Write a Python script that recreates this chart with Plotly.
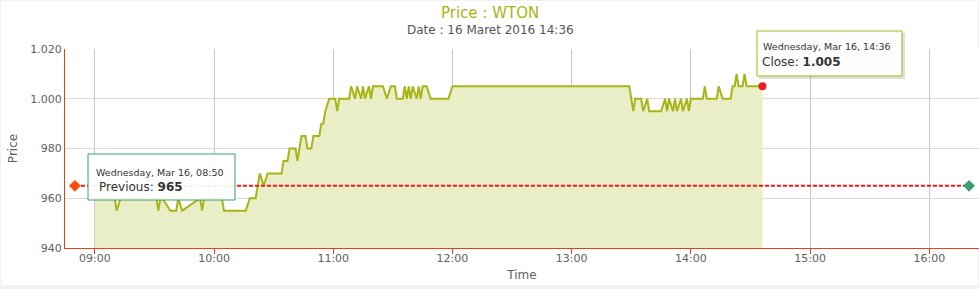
import plotly.graph_objects as go

DAY = "2016-03-16 "
times = ["09:00","09:10","09:11","09:13","09:31","09:32","09:33","09:34","09:38","09:41","09:42","09:44",
         "09:53","09:54","09:55","10:04","10:05","10:16","10:18","10:21","10:23","10:25","10:27","10:34",
         "10:35","10:37","10:38","10:41","10:42","10:44","10:46","10:47","10:49","10:50","10:53","10:54",
         "10:55","10:56","10:58","11:01","11:02","11:03","11:08","11:09","11:11","11:12","11:14","11:15",
         "11:16","11:18","11:19","11:20","11:25","11:27","11:29","11:31","11:32","11:35","11:36","11:37",
         "11:38","11:39","11:40","11:42","11:43","11:44","11:45","11:47","11:49","11:58","12:00","13:29",
         "13:31","13:32","13:35","13:36","13:38","13:39","13:45","13:47","13:48","13:49","13:51","13:52",
         "13:53","13:55","13:56","13:58","13:59","14:00","14:06","14:07","14:08","14:13","14:14","14:16",
         "14:20","14:21","14:22","14:23","14:24","14:26","14:27","14:28","14:36"]
prices = [960,960,955,960,960,955,960,960,955,955,960,955,
          960,955,960,960,955,955,960,960,970,965,970,970,
          975,975,980,980,975,985,985,980,980,985,985,990,
          990,995,1000,1000,995,1000,1000,1005,1000,1005,1000,1005,
          1000,1005,1000,1005,1005,1000,1005,1005,1000,1000,1005,1000,
          1005,1000,1005,1000,1005,1000,1005,1005,1000,1000,1005,1005,
          995,1000,1000,995,1000,995,995,1000,995,1000,995,1000,
          995,1000,995,1000,995,1000,1000,1005,1000,1000,1005,1000,
          1000,1005,1005,1010,1005,1005,1010,1005,1005]

previous_value = 965
previous_times = ["08:50", "16:20"]
close_time = "14:36"
close_value = 1005

y_ticks = [940, 960, 980, 1000, 1020]
y_tick_text = ["940", "960", "980", "1.000", "1.020"]
x_ticks = ["09:00","10:00","11:00","12:00","13:00","14:00","15:00","16:00"]

W, H = 979, 289
ML, MR, MT, MB = 65, 0, 49, 41
PW, PH = W - ML - MR, H - MT - MB

def px(x):
    return (x - ML) / PW

def py(y):
    return (H - MB - y) / PH

FONT = "DejaVu Sans"
LINE = "#a8b516"
AXIS = "#e8401c"

fig = go.Figure()

fig.add_trace(go.Scatter(
    x=[DAY + t for t in times], y=prices, mode="lines",
    line=dict(color=LINE, width=2, shape="linear"),
    fill="tozeroy", fillcolor="#e9eec6", hoverinfo="skip", showlegend=False))

fig.add_trace(go.Scatter(
    x=[DAY + t for t in previous_times], y=[previous_value] * 2, mode="lines",
    line=dict(color="#f01818", width=2, dash="4px,2px"), hoverinfo="skip", showlegend=False))

fig.add_trace(go.Scatter(
    x=[DAY + previous_times[0]], y=[previous_value], mode="markers",
    marker=dict(symbol="diamond", size=9, color="#ff4a10"), showlegend=False))
fig.add_trace(go.Scatter(
    x=[DAY + previous_times[1]], y=[previous_value], mode="markers",
    marker=dict(symbol="diamond", size=9, color="#3d9e74"), showlegend=False))
fig.add_trace(go.Scatter(
    x=[DAY + close_time], y=[close_value], mode="markers",
    marker=dict(symbol="circle", size=8, color="#ea1c24"), showlegend=False))

shapes = []
shapes.append(dict(type="rect", xref="paper", yref="paper", x0=px(1), x1=px(978), y0=py(285), y1=py(1),
                   fillcolor="white", line=dict(width=0), layer="below"))

def box(l, t, rgt, b, color, shadow=False):
    out = []
    if shadow:
        out.append(dict(type="rect", xref="paper", yref="paper", x0=px(l + 2), x1=px(rgt + 3),
                        y0=py(b + 3), y1=py(t + 2), fillcolor="rgba(0,0,0,0.12)",
                        line=dict(width=0), layer="above"))
    out.append(dict(type="rect", xref="paper", yref="paper", x0=px(l), x1=px(rgt),
                    y0=py(b), y1=py(t), fillcolor="rgba(255,255,255,0.92)",
                    line=dict(color=color, width=1), layer="above"))
    return out

shapes += box(88, 154, 235, 200, "#3d9e74")
shapes += box(757, 31, 902, 76, LINE, shadow=True)

def note(text, x, y, size, color, xanchor="center"):
    return dict(text=text, xref="paper", yref="paper", x=px(x), y=py(y),
                xanchor=xanchor, yanchor="middle", showarrow=False,
                font=dict(family=FONT, size=size, color=color))

annotations = [
    note("Price : WTON", 490, 13, 15, "#a8b516"),
    note("Date : 16 Maret 2016 14:36", 490, 30, 12, "#555555"),
    note("Wednesday, Mar 16, 08:50", 94, 172, 9.5, "#333333", "left"),
    note("Previous: <b>965</b>", 97, 187, 12, "#333333", "left"),
    note("Wednesday, Mar 16, 14:36", 761, 46, 9.5, "#333333", "left"),
    note("Close: <b>1.005</b>", 760, 62, 12, "#333333", "left"),
]

fig.update_layout(
    width=W, height=H, margin=dict(l=ML, r=MR, t=MT, b=MB),
    paper_bgcolor="#f2f2f2", plot_bgcolor="white",
    shapes=shapes, annotations=annotations, showlegend=False,
    font=dict(family=FONT, size=11, color="#606060"),
    xaxis=dict(
        type="date", range=[DAY + "08:45", DAY + "16:25"],
        tickvals=[DAY + t for t in x_ticks], ticktext=x_ticks,
        showgrid=True, gridcolor="#c8c8c8", gridwidth=1,
        showline=True, linecolor=AXIS, linewidth=1,
        ticks="outside", tickcolor=AXIS, ticklen=5, tickwidth=1,
        ticklabelstandoff=-5,
        tickfont=dict(family=FONT, size=11, color="#606060"),
        title=dict(text="Time", font=dict(family=FONT, size=12, color="#606060"), standoff=6),
        zeroline=False),
    yaxis=dict(
        range=[940, 1020], tickvals=y_ticks, ticktext=y_tick_text,
        showgrid=True, gridcolor="#dadada", gridwidth=1,
        showline=True, linecolor=AXIS, linewidth=1, ticks="",
        tickfont=dict(family=FONT, size=11, color="#606060"),
        title=dict(text="Price", font=dict(family=FONT, size=12, color="#606060"), standoff=10),
        zeroline=False),
)

fig.write_html("out.html")
